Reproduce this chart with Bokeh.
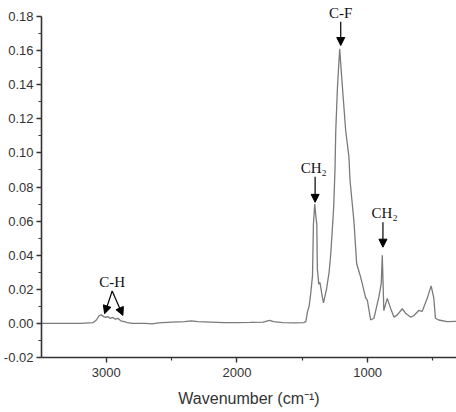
from bokeh.plotting import figure
from bokeh.models import Range1d, FixedTicker, Arrow, NormalHead, ColumnDataSource, LabelSet
from bokeh.embed import file_html
from bokeh.resources import INLINE

# Spectrum data (wavenumber cm-1, absorbance)
wavenumber = [3496, 3200, 3100, 3076, 3055, 3040, 3020, 3005, 2990, 2970, 2950, 2930, 2910,
              2890, 2863, 2840, 2800, 2700, 2650, 2600, 2500, 2400, 2350, 2300, 2200, 2100,
              2000, 1900, 1800, 1750, 1720, 1650, 1550, 1490, 1473, 1460, 1448, 1435, 1422,
              1415, 1405, 1395, 1389, 1385, 1374, 1365, 1348, 1338, 1315, 1295, 1282, 1260,
              1250, 1244, 1231, 1214, 1193, 1168, 1143, 1135, 1105, 1084, 1053, 1015, 1002,
              977, 952, 914, 896, 888, 876, 850, 824, 799, 773, 735, 710, 672, 647, 609,
              583, 544, 514, 494, 481, 456, 392, 321]
absorbance = [0.0, 0.0, 0.0005, 0.002, 0.0045, 0.005, 0.004, 0.0035, 0.004, 0.003, 0.0035,
              0.0025, 0.003, 0.0015, 0.001, 0.0005, 0.0, 0.0, -0.0003, 0.0003, 0.0008, 0.001,
              0.0015, 0.001, 0.0008, 0.0005, 0.0005, 0.0006, 0.0008, 0.0018, 0.001, 0.0005,
              0.0003, 0.0005, 0.001, 0.007, 0.010, 0.018, 0.028, 0.058, 0.070, 0.062, 0.058,
              0.032, 0.023, 0.024, 0.016, 0.012, 0.020, 0.030, 0.041, 0.068,
              0.090, 0.113, 0.1385, 0.161, 0.1385, 0.113, 0.0975, 0.084, 0.060, 0.035,
              0.027, 0.015, 0.0135, 0.002, 0.003, 0.0155, 0.0235, 0.040, 0.0075, 0.0147,
              0.0088, 0.0037, 0.005, 0.0086, 0.006, 0.0037, 0.0045, 0.0076, 0.007, 0.0147,
              0.022, 0.015, 0.003, 0.002, 0.001, 0.0012]

x_ticks = [3000, 2000, 1000]
x_minor = [2500, 1500, 500]
y_ticks = [-0.02, 0.0, 0.02, 0.04, 0.06, 0.08, 0.10, 0.12, 0.14, 0.16, 0.18]
y_minor = [-0.01, 0.01, 0.03, 0.05, 0.07, 0.09, 0.11, 0.13, 0.15, 0.17]

# Peak labels and arrows
label_text = ["C-H", "CH\u2082", "C-F", "CH\u2082"]
label_x = [2955, 1412, 1206, 870]
label_y = [0.0195, 0.0865, 0.1775, 0.060]
arrow_x0 = [2955, 2955, 1402, 1206, 883]
arrow_y0 = [0.019, 0.019, 0.086, 0.177, 0.0594]
arrow_x1 = [3013, 2873, 1402, 1206, 883]
arrow_y1 = [0.0057, 0.0047, 0.071, 0.163, 0.0447]

p = figure(width=456, height=412, output_backend="svg", toolbar_location=None,
           x_range=Range1d(3496, 320), y_range=Range1d(-0.02, 0.1894),
           min_border_left=40, min_border_right=0, min_border_top=0, min_border_bottom=55)
p.xgrid.visible = False
p.ygrid.visible = False
p.outline_line_color = None
p.background_fill_color = "white"
p.border_fill_color = "white"

p.line(wavenumber, absorbance, line_color="#7a7a7a", line_width=1.3)

for ax in (p.xaxis[0], p.yaxis[0]):
    ax.axis_line_color = "#333333"
    ax.axis_line_width = 1.6
    ax.major_tick_line_color = "#333333"
    ax.minor_tick_line_color = "#333333"
    ax.major_tick_line_width = 1.4
    ax.minor_tick_line_width = 1.2
    ax.major_tick_in = 0
    ax.major_tick_out = 5
    ax.minor_tick_in = 0
    ax.minor_tick_out = 3
    ax.major_label_text_font = "Liberation Sans"
    ax.major_label_text_font_size = "13px"
    ax.major_label_text_color = "#333333"

p.yaxis[0].bounds = (-0.02, 0.18)
p.xaxis[0].ticker = FixedTicker(ticks=x_ticks, minor_ticks=x_minor)
p.yaxis[0].ticker = FixedTicker(ticks=y_ticks, minor_ticks=y_minor)
p.yaxis[0].major_label_overrides = {v: f"{v:.2f}" for v in y_ticks}
p.yaxis[0].major_label_standoff = 3
p.xaxis[0].major_label_standoff = 5
p.xaxis[0].axis_label = "Wavenumber (cm\u207b\u00b9)"
p.xaxis[0].axis_label_text_font = "Liberation Sans"
p.xaxis[0].axis_label_text_font_style = "normal"
p.xaxis[0].axis_label_text_font_size = "16px"
p.xaxis[0].axis_label_text_color = "#333333"
p.xaxis[0].axis_label_standoff = 10

src = ColumnDataSource(dict(x=label_x, y=label_y, t=label_text))
p.add_layout(LabelSet(x="x", y="y", text="t", source=src, text_align="center",
                      text_baseline="bottom", text_font="Liberation Serif",
                      text_font_size="15px", text_color="#111111"))

for x0, y0, x1, y1 in zip(arrow_x0, arrow_y0, arrow_x1, arrow_y1):
    p.add_layout(Arrow(end=NormalHead(size=8, fill_color="black", line_color="black"),
                       x_start=x0, y_start=y0, x_end=x1, y_end=y1,
                       line_color="black", line_width=1.2))

open("out.html", "w").write(file_html(p, INLINE))
